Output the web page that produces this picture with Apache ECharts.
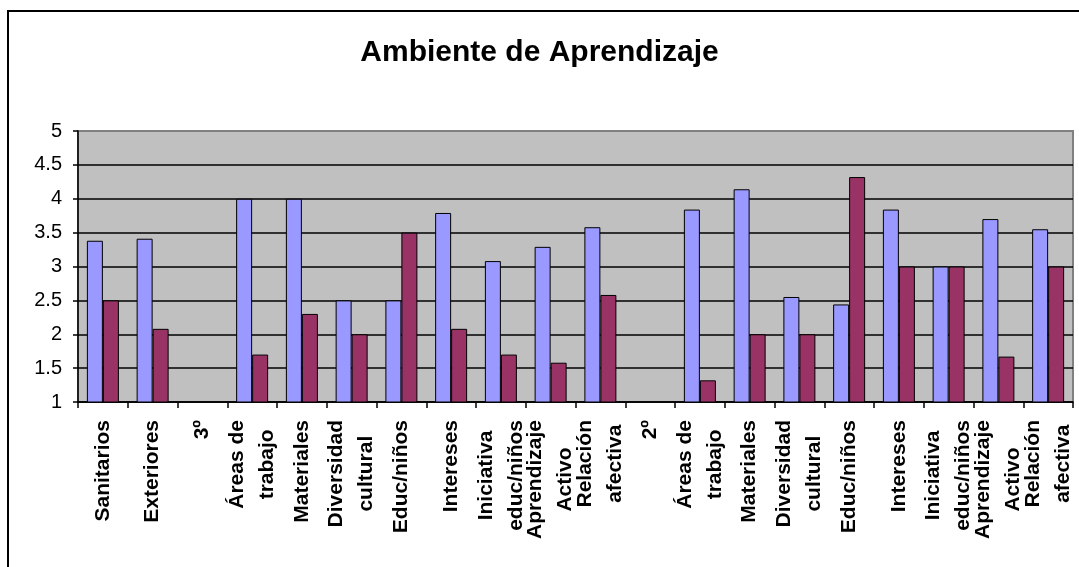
<!DOCTYPE html>
<html>
<head>
<meta charset="utf-8">
<script src="https://cdn.jsdelivr.net/npm/echarts@6/dist/echarts.min.js"></script>
<style>
  html, body { margin: 0; padding: 0; background: #fff; }
  #chart { width: 1079px; height: 567px; }
</style>
</head>
<body>
<div id="chart"></div>
<script>
// datos
var categories = ['Sanitarios', 'Exteriores', '3º', 'Áreas de\ntrabajo', 'Materiales',
  'Diversidad\ncultural', 'Educ/niños', 'Intereses', 'Iniciativa\neduc/niños',
  'Aprendizaje\nActivo', 'Relación\nafectiva', '2º', 'Áreas de\ntrabajo', 'Materiales',
  'Diversidad\ncultural', 'Educ/niños', 'Intereses', 'Iniciativa\neduc/niños',
  'Aprendizaje\nActivo', 'Relación\nafectiva']
var serie1 = [3.38, 3.41, null, 4.0, 4.0, 2.5, 2.5, 3.79, 3.08, 3.29, 3.58, null,
  3.84, 4.14, 2.55, 2.44, 3.84, 3.0, 3.7, 3.55]
var serie2 = [2.5, 2.08, null, 1.7, 2.3, 2.0, 3.5, 2.08, 1.7, 1.58, 2.58, null,
  1.32, 2.0, 2.0, 4.32, 3.0, 3.0, 1.67, 3.0]
var yMin = 1, yMax = 5, yStep = 0.5

;(function(){
  var font = 'Liberation Sans'
  var myChart = echarts.init(document.getElementById('chart'))
  var gridColors = []
  for (var v = yMin; v < yMax; v += yStep) gridColors.push('#000')
  gridColors.push('#808080')

  var option = {
    backgroundColor: '#fff',
    animation: false,
    title: {
      text: 'Ambiente de Aprendizaje',
      left: 'center',
      top: 38,
      padding: [0, 0, 0, 17],
      textStyle: { fontFamily: font, fontSize: 30, fontWeight: 'bold', color: '#000' }
    },
    graphic: [{
      type: 'rect',
      shape: { x: 8, y: 11, width: 1200, height: 700 },
      style: { fill: 'none', stroke: '#000', lineWidth: 2 },
      silent: true
    }],
    grid: {
      show: true,
      left: 78,
      right: 6,
      top: 131,
      bottom: 165,
      backgroundColor: '#C0C0C0',
      borderColor: '#808080',
      borderWidth: 2,
      containLabel: false
    },
    xAxis: {
      type: 'category',
      data: categories,
      axisLine: { lineStyle: { color: '#000', width: 1.5 } },
      axisTick: { show: true, length: 6, lineStyle: { color: '#000', width: 1.5 } },
      axisLabel: {
        interval: 0,
        rotate: 90,
        margin: 18,
        color: '#000',
        fontFamily: font,
        fontSize: 21,
        fontWeight: 'bold',
        formatter: function(val){
          return val.split('\n').map(function(s){ return '{c|' + s + '}' }).join('\n')
        },
        rich: {
          c: { align: 'center', fontFamily: font, fontSize: 21, fontWeight: 'bold', color: '#000', lineHeight: 30 }
        }
      }
    },
    yAxis: {
      type: 'value',
      min: yMin,
      max: yMax,
      interval: yStep,
      axisLine: { show: true, lineStyle: { color: '#000', width: 1.5 } },
      axisTick: { show: true, length: 5, lineStyle: { color: '#000', width: 1.5 } },
      axisLabel: { color: '#000', fontFamily: font, fontSize: 20, margin: 16 },
      splitLine: { show: true, lineStyle: { color: gridColors, width: 1.5 } }
    },
    series: [{
      name: 'Serie 1',
      type: 'bar',
      data: serie1,
      barWidth: 16,
      barGap: '0%',
      itemStyle: { color: '#9999FF', borderColor: '#000', borderWidth: 1 }
    }, {
      name: 'Serie 2',
      type: 'bar',
      data: serie2,
      barWidth: 16,
      barGap: '0%',
      itemStyle: { color: '#993366', borderColor: '#000', borderWidth: 1 }
    }]
  }
  myChart.setOption(option)
})();
</script>
</body>
</html>
